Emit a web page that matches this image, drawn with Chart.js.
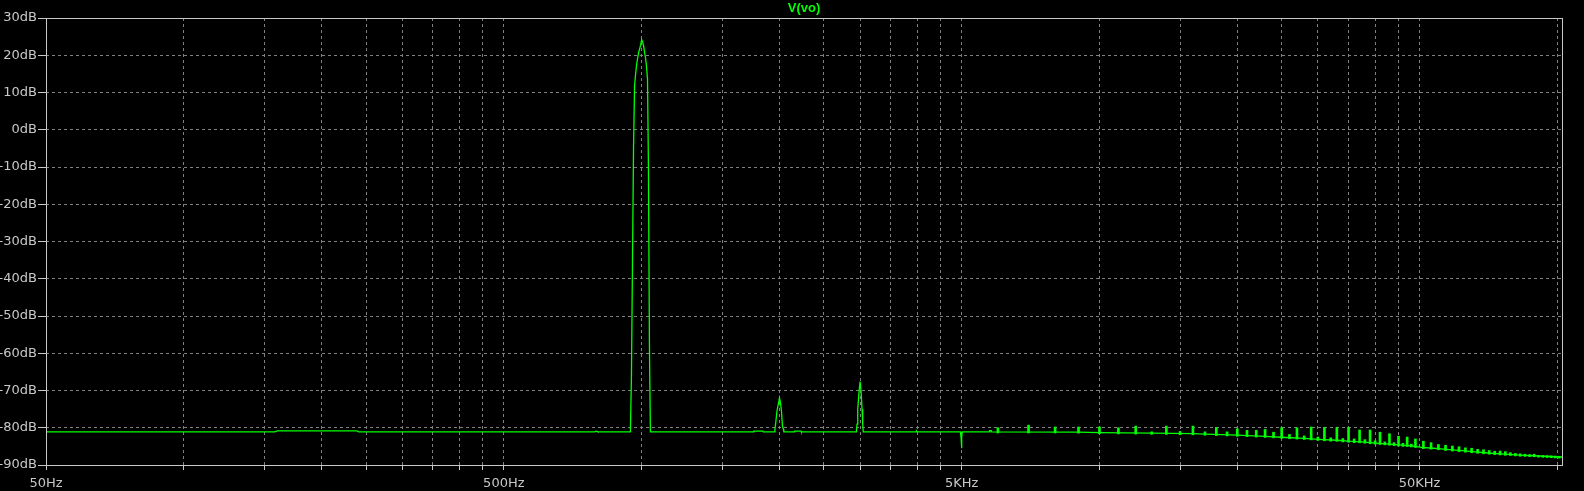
<!DOCTYPE html>
<html>
<head>
<meta charset="utf-8">
<script src="https://cdn.jsdelivr.net/npm/chart.js@4.4.1/dist/chart.umd.min.js"></script>
<style>
  html, body { margin: 0; padding: 0; background: #000; }
</style>
</head>
<body>
<canvas id="fft" width="1584" height="491"></canvas>
<script>
// trace V(vo): frequency (Hz) and magnitude (dB)
const traceFreq = [
  50, 158, 160, 239, 241, 790, 792, 800, 802, 945,
  950, 955, 960, 965, 970, 975, 980, 985, 990, 995, 1000, 1005, 1010, 1015, 1020, 1025, 1030, 1035, 1040, 1045,
  1755, 1758, 1840, 1843,
  1950, 1955, 1965, 1975, 1985, 1995, 2000, 2010, 2020, 2030, 2040, 2045,
  2158, 2160, 2230, 2233,
  2945, 2955, 2965, 2985, 3000, 3015, 3030, 3040, 3048,
  3975, 3980, 3990, 3995,
  4970, 4985, 4995, 5000, 5008, 5015,
  5750, 5755, 5800, 5805,
  9000, 10000, 13000, 16000, 17000, 20000, 23000, 25000, 28000, 30000, 33000, 35000, 38000, 40000,
  43000, 45000, 48000, 50500, 53600, 56500, 60000, 63500, 67100, 71700, 76800, 83000, 93500, 102400
];
const traceDb = [
  -81.1, -81.1, -80.85, -80.85, -81.1, -81.1, -80.95, -80.95, -81.1, -81.1,
  -66.2, -35.6, -5.1, 11.7, 14.9, 17.5, 19.2, 20.7, 21.7, 22.7, 24.2, 23.6, 22.5, 20.7, 19.2, 16.9, 13.5, -11.4, -58.2, -81.1,
  -81.1, -80.9, -80.9, -81.1,
  -81.1, -80.4, -78.2, -75.5, -74.1, -72.8, -72.0, -73.2, -75.5, -79.5, -80.4, -81.1,
  -81.1, -80.9, -80.9, -81.1,
  -81.1, -79.0, -75.0, -70.3, -67.6, -70.3, -75.0, -79.0, -81.1,
  -81.1, -80.9, -80.9, -81.1,
  -81.1, -82.6, -84.0, -85.5, -82.6, -81.1,
  -81.1, -80.75, -80.75, -81.1,
  -81.15, -81.3, -81.45, -81.6, -81.7, -82.0, -82.3, -82.55, -82.85, -83.1, -83.35, -83.6, -83.85, -84.1,
  -84.4, -84.6, -84.85, -85.25, -85.5, -85.75, -86.0, -86.3, -86.55, -86.85, -87.1, -87.35, -87.65, -87.85
];

// harmonic spikes above the noise floor (base sits on the floor)
const spikeFreq = [
  6000, 7000, 8000, 9000, 10000, 11000, 12000, 13000, 14000, 15000, 16000, 17000, 18000, 19000, 20000,
  21000, 22000, 23000, 24000, 25000, 26000, 27000, 28000, 29000, 30000, 31000, 32000, 33000, 34000, 35000,
  36000, 37000, 38000, 39000, 40000, 41000, 42000, 43000, 44000, 45000, 46000, 47000, 48000, 49000,
  51000, 53000, 55000, 57000, 59000, 61000, 63000, 65000, 67000, 69000, 71000, 73000, 75000,
  77000, 79000, 81000, 83000, 85000, 87000, 89000, 91000, 93000, 95000, 97000, 99000, 101000
];
const spikeTop = [
  -80.0, -79.3, -79.8, -79.8, -79.8, -80.0, -79.55, -81.1, -79.55, -81.0, -79.55, -81.1, -79.9, -81.1, -80.3,
  -80.7, -80.7, -80.45, -81.2, -80.0, -81.8, -80.0, -82.2, -79.8, -82.5, -79.9, -82.7, -79.9, -82.9, -79.9,
  -83.0, -80.6, -83.2, -80.6, -83.5, -81.2, -83.8, -81.6, -84.0, -82.3, -84.2, -82.5, -84.4, -83.0,
  -83.6, -84.0, -84.5, -84.7, -84.9, -85.1, -85.4, -85.5, -85.8, -85.9, -86.1, -86.3, -86.25,
  -86.4, -86.7, -86.9, -87.0, -87.1, -87.2, -87.1, -87.4, -87.45, -87.5, -87.55, -87.6, -87.65
];
const spikeBase = [
  -81.4, -81.4, -81.4, -81.45, -81.6, -81.65, -81.7, -81.75, -81.8, -81.85, -81.9, -82.0, -82.1, -82.2, -82.3,
  -82.4, -82.5, -82.6, -82.7, -82.85, -82.95, -83.05, -83.15, -83.25, -83.4, -83.5, -83.6, -83.65, -83.8, -83.9,
  -84.0, -84.05, -84.15, -84.3, -84.4, -84.5, -84.6, -84.7, -84.8, -84.9, -85.0, -85.05, -85.15, -85.3,
  -85.6, -85.75, -85.9, -86.1, -86.25, -86.4, -86.55, -86.7, -86.85, -87.0, -87.1, -87.2, -87.3,
  -87.4, -87.45, -87.55, -87.65, -87.7, -87.75, -87.8, -87.9, -87.95, -88.0, -88.05, -88.1, -88.15
];

// axis ticks
const yTicks = [30, 20, 10, 0, -10, -20, -30, -40, -50, -60, -70, -80, -90];
const xGridTicks = [
  50, 100, 150, 200, 250, 300, 350, 400, 450,
  500, 1000, 1500, 2000, 2500, 3000, 3500, 4000, 4500,
  5000, 10000, 15000, 20000, 25000, 30000, 35000, 40000, 45000,
  50000, 100000
];
const xLabelValues = [50, 500, 5000, 50000];
const xLabelText = ["50Hz", "500Hz", "5KHz", "50KHz"];

const GREEN = "rgb(0,255,0)";
const LABEL = "#c8c8c8";
const GRID = "#808080";
const FRAME = "#c8c8c8";

Chart.defaults.font.family = "DejaVu Sans";
Chart.defaults.font.size = 13;

// plot frame on all four sides
const framePlugin = {
  id: "frame",
  afterDraw(chart) {
    const a = chart.chartArea;
    const c = chart.ctx;
    c.save();
    c.strokeStyle = FRAME;
    c.lineWidth = 1;
    c.strokeRect(Math.round(a.left) + 0.5, Math.round(a.top) + 0.5,
      Math.round(a.right - a.left), Math.round(a.bottom - a.top));
    c.restore();
  }
};

const ctx = document.getElementById("fft").getContext("2d");
new Chart(ctx, {
  type: "line",
  data: {
    datasets: [
      {
        type: "line",
        label: "V(vo)",
        data: traceFreq.map((f, i) => ({ x: f, y: traceDb[i] })),
        borderColor: GREEN,
        borderWidth: 1.3,
        pointRadius: 0,
        tension: 0,
        fill: false
      },
      {
        type: "bar",
        label: "harmonics",
        data: spikeFreq.map((f, i) => ({ x: f, y: [spikeBase[i], spikeTop[i]] })),
        backgroundColor: GREEN,
        borderWidth: 0,
        barThickness: 2,
        grouped: false
      }
    ]
  },
  options: {
    responsive: false,
    animation: false,
    devicePixelRatio: 1,
    layout: { padding: { left: 0, right: 22, top: 0, bottom: 0 } },
    plugins: {
      legend: { display: false },
      tooltip: { enabled: false },
      title: {
        display: true,
        text: "V(vo)",
        color: GREEN,
        fullSize: false,
        font: { family: "Liberation Sans", size: 13, weight: "bold" },
        padding: { top: 1, bottom: 1.4 }
      }
    },
    scales: {
      x: {
        type: "logarithmic",
        min: 50,
        max: 102400,
        offset: false,
        afterBuildTicks: (s) => { s.ticks = xGridTicks.map(v => ({ value: v })); },
        afterFit: (s) => { s.height = 26; },
        ticks: {
          autoSkip: false,
          maxRotation: 0,
          color: LABEL,
          padding: 6,
          callback: (v) => {
            const k = xLabelValues.indexOf(v);
            return k >= 0 ? xLabelText[k] : "";
          }
        },
        grid: { color: GRID, lineWidth: 1, offset: false, tickLength: 5, tickColor: FRAME, tickBorderDash: [] },
        border: { display: false, dash: [3, 3] }
      },
      y: {
        type: "linear",
        min: -90,
        max: 30,
        afterBuildTicks: (s) => { s.ticks = yTicks.map(v => ({ value: v })); },
        afterFit: (s) => { s.width = 46; },
        ticks: {
          color: LABEL,
          padding: 1,
          callback: (v) => v + "dB"
        },
        grid: { color: GRID, lineWidth: 1, tickLength: 8, tickColor: FRAME, tickBorderDash: [] },
        border: { display: false, dash: [3, 3] }
      }
    }
  },
  plugins: [framePlugin]
});
</script>
</body>
</html>
